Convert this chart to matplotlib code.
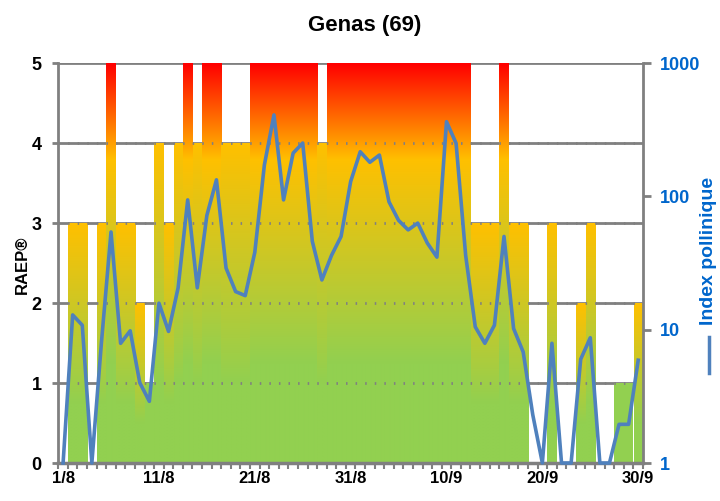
import numpy as np
import matplotlib
matplotlib.use("Agg")
import matplotlib.pyplot as plt
from matplotlib import font_manager
from matplotlib.lines import Line2D
from matplotlib.ticker import NullLocator, FixedLocator

# daily RAEP level (0-5), 1/8 -> 30/9
raep = [0, 3, 3, 0, 3, 5, 3, 3, 2, 1,
        4, 3, 4, 5, 4, 5, 5, 4, 4, 4,
        5, 5, 5, 5, 5, 5, 5, 4, 5, 5,
        5, 5, 5, 5, 5, 5, 5, 5, 5, 5,
        5, 5, 5, 3, 3, 3, 5, 3, 3, 0,
        0, 3, 0, 0, 2, 3, 0, 0, 1, 1,
        2]

# index pollinique (log scale)
pollen = [1, 12.9, 10.8, 1, 8, 54, 7.9, 9.8, 4, 2.9,
          15.8, 9.7, 20.6, 94, 20.6, 72, 133, 29, 19.3, 18,
          38, 172, 408, 94, 211, 251, 46, 23.6, 36, 50,
          129, 216, 180, 204, 91, 66, 56, 63, 44.6, 35,
          363, 250, 36, 10.5, 7.9, 10.8, 50, 10.2, 6.8, 2.3,
          1, 7.9, 1, 1, 6, 8.7, 1, 1, 1.95, 1.95,
          5.9]

xlabels = ["1/8", "11/8", "21/8", "31/8", "10/9", "20/9", "30/9"]
xlabel_pos = [0, 10, 20, 30, 40, 50, 60]
raep_ticks = [0, 1, 2, 3, 4, 5]
pollen_ticks = [1, 10, 100, 1000]

names = set(f.name for f in font_manager.fontManager.ttflist)
fam = "Liberation Sans Narrow" if "Liberation Sans Narrow" in names else "Liberation Sans"
plt.rcParams['font.family'] = [fam, 'DejaVu Sans']

GREEN = np.array([0x92, 0xD0, 0x50]) / 255.
YELLOW = np.array([0xFF, 0xC0, 0x00]) / 255.
RED = np.array([0xFF, 0x00, 0x00]) / 255.
GRAY = "#808080"
BLUE_TXT = "#0066CC"
LINE_C = "#4F81BD"


def bar_colors(h, n=200):
    f = np.linspace(0, 1, n)
    g0 = 0.25
    ytop = 0.76 if h >= 5 else 1.0
    out = np.zeros((n, 1, 3))
    for k, t in enumerate(f):
        if t <= g0:
            c = GREEN
        elif t <= ytop:
            a = (t - g0) / (ytop - g0)
            c = GREEN * (1 - a) + YELLOW * a
        else:
            a = (t - ytop) / (1 - ytop)
            c = YELLOW * (1 - a) + RED * a
        out[k, 0] = c
    return out


fig = plt.figure(figsize=(7.2, 5.01), dpi=100)
ax = fig.add_axes([58.3 / 720, 38 / 501, (643 - 58.3) / 720, 400 / 501])
ax.set_axisbelow(True)

n = len(raep)
w = 0.96
for i, h in enumerate(raep):
    if h <= 0:
        continue
    if h == 1:
        ax.bar(i, h, width=w, color=GREEN, zorder=2, linewidth=0)
    else:
        ax.imshow(bar_colors(h), extent=(i - w / 2, i + w / 2, 0, h),
                  origin="lower", aspect="auto", zorder=2, interpolation="bilinear")

ax.set_xlim(-0.5, n - 0.5)
ax.set_ylim(0, 5)
ax.yaxis.grid(True, color=GRAY, linewidth=2)
for lev in raep_ticks[1:-1]:
    ax.axhline(lev, color=GRAY, linewidth=2, linestyle=(0, (0.55, 2.9)), zorder=3)

ax.set_yticks(raep_ticks)
ax.set_xticks(xlabel_pos)
ax.set_xticklabels(xlabels)
ax.xaxis.set_minor_locator(FixedLocator(np.arange(-0.5, n, 1.0)))
ax.tick_params(axis="x", which="major", length=0, pad=6, labelsize=12)
ax.tick_params(axis="x", which="minor", length=4, width=1.5, color=GRAY)
ax.tick_params(axis="y", length=4, width=2, color=GRAY, labelsize=13, pad=8)
for lab in ax.get_xticklabels() + ax.get_yticklabels():
    lab.set_fontweight("bold")

ax.spines["top"].set_visible(False)
ax.spines["right"].set_visible(False)
ax.spines["left"].set_color(GRAY)
ax.spines["left"].set_linewidth(2)
ax.spines["bottom"].set_color(GRAY)
ax.spines["bottom"].set_linewidth(2.5)
ax.spines["bottom"].set_zorder(4)

ax2 = ax.twinx()
ax2.set_yscale("log")
ax2.set_ylim(1, 1000)
ax2.plot(range(n), pollen, color=LINE_C, linewidth=2.6, clip_on=False, zorder=5)
ax2.yaxis.set_major_locator(FixedLocator(pollen_ticks))
ax2.yaxis.set_minor_locator(NullLocator())
ax2.set_yticklabels([str(t) for t in pollen_ticks])
ax2.tick_params(axis="y", length=6, width=2, color=GRAY, labelsize=13,
                labelcolor=BLUE_TXT, pad=6)
for lab in ax2.get_yticklabels():
    lab.set_fontweight("bold")
for s in ["top", "left", "bottom"]:
    ax2.spines[s].set_visible(False)
ax2.spines["right"].set_color(GRAY)
ax2.spines["right"].set_linewidth(2)

fig.text(22 / 720, 1 - 265 / 501, "RAEP\u00ae", rotation=90, ha="center",
         va="center", fontsize=12, fontweight="bold")
fig.text(0.984, 1 - 251 / 501, "Index pollinique", rotation=90, ha="center",
         va="center", color=BLUE_TXT, fontsize=14, fontweight="bold")
fig.add_artist(Line2D([0.985, 0.985], [1 - 373 / 501, 1 - 337 / 501],
                      color=LINE_C, linewidth=2.5, transform=fig.transFigure))
fig.text(0.507, 1 - 25 / 501, "Genas (69)", ha="center", va="center",
         fontsize=16, fontweight="bold")

fig.savefig("out.png", dpi=100)
